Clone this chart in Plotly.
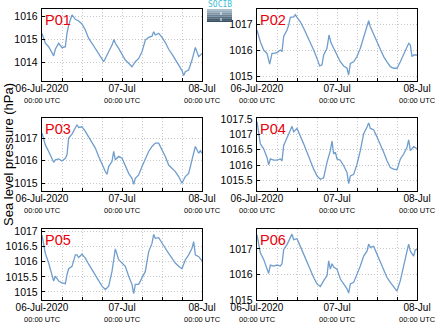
import plotly.graph_objects as go
import pandas as pd

# Sea level pressure (hPa) at six stations, 06-Jul-2020 00:00 to 08-Jul-2020 00:00 UTC
# Times are hours since 06-Jul-2020 00:00 UTC
p01_hours = [0, 1, 2, 3, 3.5, 4, 5, 6, 7, 7.5, 8, 9, 10, 11, 12, 13, 14, 15, 16, 17, 18, 18.5, 19, 20, 21, 21.6, 22, 23, 24,
             25, 26, 27, 28, 29, 30, 31, 32, 33, 33.5, 34, 35, 36, 37, 38, 39, 40, 41, 42, 42.5, 43, 44, 45, 46, 47, 48]
p01_hpa = [1015.26, 1014.83, 1014.68, 1014.39, 1014.28, 1014.57, 1014.83, 1014.64, 1014.68, 1015.26, 1015.62, 1016.06,
           1015.87, 1015.80, 1015.67, 1015.41, 1015.04, 1014.83, 1014.61, 1014.39, 1014.17, 1014.03, 1014.17, 1014.46,
           1014.75, 1015.00, 1014.83, 1014.61, 1014.32, 1014.10, 1013.96, 1013.81, 1014.03, 1014.17, 1014.46, 1014.97,
           1015.09, 1015.14, 1015.33, 1015.19, 1015.26, 1015.09, 1014.86, 1014.57, 1014.36, 1014.13, 1013.88, 1013.64,
           1013.43, 1013.59, 1013.67, 1014.10, 1014.65, 1014.25, 1014.39]

p02_hours = [0, 1, 2, 3, 3.8, 4.5, 5, 6, 7, 7.5, 8, 9, 9.5, 10, 11, 11.5, 12, 13, 14, 15, 16, 17, 18, 18.8, 19.5, 20, 21,
             21.6, 22.2, 23, 24, 25, 26, 27, 27.5, 28, 29, 30, 31, 32, 33, 33.5, 34, 35, 36, 37, 38, 39, 40, 41, 42, 43,
             44, 45, 45.5, 46, 46.5, 47, 48]
p02_hpa = [1016.78, 1016.33, 1016.01, 1015.88, 1015.47, 1015.88, 1015.88, 1015.91, 1016.01, 1015.95, 1016.53, 1016.78,
           1016.97, 1017.27, 1017.29, 1017.37, 1017.27, 1017.10, 1016.85, 1016.59, 1016.33, 1016.01, 1015.69, 1015.40,
           1015.44, 1015.82, 1016.08, 1016.59, 1016.29, 1016.08, 1015.82, 1015.56, 1015.40, 1015.31, 1015.05, 1015.50,
           1015.56, 1015.76, 1016.08, 1016.53, 1016.97, 1017.14, 1016.91, 1016.59, 1016.33, 1016.04, 1015.76, 1015.56,
           1015.37, 1015.31, 1015.31, 1015.56, 1015.82, 1016.08, 1016.27, 1016.20, 1015.76, 1015.82, 1015.82]

p03_hours = [0, 1, 2, 3, 3.5, 4, 5, 6, 7, 7.5, 8, 9, 10, 10.5, 11, 12, 13, 14, 15, 16, 17, 18, 19, 19.5, 20, 21, 21.5, 22,
             23, 24, 25, 26, 27, 27.5, 28, 29, 30, 31, 32, 33, 34, 35, 36, 37, 38, 39, 40, 41, 42, 43, 44, 45, 46, 47,
             47.5, 48]
p03_hpa = [1017.22, 1016.70, 1016.41, 1016.11, 1015.93, 1016.04, 1016.08, 1015.99, 1016.11, 1016.26, 1017.00, 1017.18,
           1017.44, 1017.59, 1017.47, 1017.50, 1017.30, 1017.07, 1016.85, 1016.56, 1016.19, 1015.81, 1015.52, 1015.40,
           1015.74, 1015.96, 1016.41, 1016.04, 1016.19, 1016.11, 1015.74, 1015.44, 1015.22, 1014.96, 1015.22, 1015.37,
           1015.74, 1016.04, 1016.41, 1016.63, 1016.78, 1016.78, 1016.48, 1016.19, 1015.81, 1015.67, 1015.52, 1015.30,
           1015.00, 1015.30, 1015.44, 1016.04, 1016.63, 1016.33, 1016.44, 1016.33]

p04_hours = [0, 1, 2, 3, 3.5, 4, 5, 6, 7, 7.5, 8, 9, 10, 10.5, 11, 12, 13, 14, 15, 16, 17, 18, 19, 20, 21, 22, 22.5, 23,
             23.5, 24, 25, 26, 27, 27.5, 28, 29, 30, 31, 32, 33, 33.5, 34, 35, 36, 37, 38, 39, 40, 41, 42, 43, 44, 45,
             45.5, 46, 47, 48]
p04_hpa = [1017.41, 1016.69, 1016.53, 1016.25, 1016.01, 1016.20, 1016.16, 1016.16, 1016.20, 1016.14, 1016.64, 1016.86,
           1017.13, 1017.26, 1017.08, 1017.19, 1016.91, 1016.69, 1016.42, 1016.14, 1015.87, 1015.65, 1015.54, 1015.59,
           1016.09, 1016.47, 1016.78, 1016.36, 1016.42, 1016.20, 1016.16, 1015.98, 1015.76, 1015.40, 1015.65, 1015.70,
           1016.03, 1016.47, 1017.02, 1017.24, 1017.37, 1017.19, 1017.15, 1016.91, 1016.69, 1016.42, 1016.14, 1015.92,
           1015.87, 1015.85, 1016.20, 1016.36, 1016.58, 1016.82, 1016.47, 1016.60, 1016.53]

p05_hours = [0, 1, 2, 3, 3.5, 4, 5, 6, 7, 7.5, 8, 9, 10, 10.5, 11, 12, 13, 14, 15, 16, 17, 18, 19, 20, 21, 22, 23, 24,
             25, 26, 27, 27.5, 28, 29, 30, 31, 32, 33, 33.5, 34, 35, 36, 37, 38, 39, 40, 41, 42, 43, 44, 45, 45.5, 46,
             47, 48]
p05_hpa = [1016.89, 1016.28, 1015.96, 1015.57, 1015.36, 1015.52, 1015.36, 1015.30, 1015.27, 1015.57, 1015.77, 1015.85,
           1016.23, 1016.23, 1016.14, 1016.25, 1016.12, 1015.92, 1015.74, 1015.57, 1015.41, 1015.19, 1015.08, 1015.19,
           1015.68, 1016.43, 1016.07, 1015.96, 1015.85, 1015.52, 1015.25, 1014.94, 1015.25, 1015.25, 1015.46, 1015.68,
           1016.34, 1016.61, 1016.91, 1016.78, 1016.80, 1016.61, 1016.45, 1016.28, 1016.12, 1015.96, 1015.85, 1015.77,
           1016.07, 1016.23, 1016.45, 1016.67, 1016.23, 1016.17, 1016.03]

p06_hours = [0, 1, 2, 3, 3.5, 4, 5, 6, 7, 7.5, 8, 9, 10, 10.5, 11, 12, 13, 14, 15, 16, 17, 18, 19, 20, 21, 21.5, 22,
             22.5, 23, 24, 25, 26, 27, 27.5, 28, 29, 30, 31, 32, 33, 33.5, 34, 35, 36, 37, 38, 39, 40, 41, 42, 43, 44,
             45, 45.5, 46, 47, 47.5, 48]
p06_hpa = [1017.55, 1016.85, 1016.59, 1016.27, 1016.04, 1016.37, 1016.33, 1016.37, 1016.33, 1016.42, 1016.97, 1017.17,
           1017.45, 1017.58, 1017.36, 1017.40, 1017.10, 1016.78, 1016.46, 1016.14, 1015.88, 1015.63, 1015.53, 1015.76,
           1015.95, 1016.53, 1016.21, 1016.42, 1016.29, 1016.21, 1015.82, 1015.63, 1015.44, 1015.27, 1015.63, 1015.69,
           1015.99, 1016.33, 1016.72, 1016.91, 1017.19, 1017.06, 1017.10, 1016.78, 1016.46, 1016.14, 1015.88, 1015.69,
           1015.50, 1015.35, 1015.76, 1016.40, 1016.91, 1017.19, 1016.91, 1016.72, 1016.97, 1016.97]

station_names = ["P01", "P02", "P03", "P04", "P05", "P06"]
station_hours = [p01_hours, p02_hours, p03_hours, p04_hours, p05_hours, p06_hours]
station_hpa = [p01_hpa, p02_hpa, p03_hpa, p04_hpa, p05_hpa, p06_hpa]

x_tick_hours = [0, 24, 48]
x_tick_dates = ["06-Jul-2020", "07-Jul", "08-Jul"]
x_tick_times = ["00:00 UTC", "00:00 UTC", "00:00 UTC"]

# Panel geometry (pixels in a 435x327 canvas) and per-panel y scaling
W, H = 435, 327
col_px = [(42, 202), (257, 417)]
row_px = [(9, 81), (118, 191), (229, 300)]
y_ranges = [(1013.19, 1016.32), (1014.82, 1017.59), (1014.66, 1017.89),
            (1015.16, 1017.53), (1014.73, 1017.09), (1015.0, 1017.78)]
y_dticks = [1, 1, 1, 0.5, 0.5, 1]

start = pd.Timestamp("2020-07-06 00:00")
LINE = "#6f9dcc"
GRID = "#c8c8c8"
GRID_DASH = "1px,2px"
FONT = "Liberation Sans, Arial, sans-serif"


def px_x(p):
    return p / W


def px_y(p):
    return 1 - p / H


fig = go.Figure()
layout = dict(
    width=W, height=H, margin=dict(l=0, r=0, t=0, b=0, autoexpand=False),
    paper_bgcolor="white", plot_bgcolor="white", showlegend=False,
    font=dict(family=FONT, color="black", size=10),
)
annotations = []
shapes = []

tick_vals = [start + pd.Timedelta(hours=h) for h in x_tick_hours]

for i, name in enumerate(station_names):
    r, c = divmod(i, 2)
    k = "" if i == 0 else str(i + 1)
    times = [start + pd.Timedelta(hours=h) for h in station_hours[i]]
    fig.add_trace(go.Scatter(
        x=times, y=station_hpa[i], mode="lines",
        line=dict(color=LINE, width=1.3),
        xaxis="x" + k, yaxis="y" + k, hoverinfo="x+y",
    ))
    x0, x1 = col_px[c]
    y0, y1 = row_px[r]
    layout["xaxis" + k] = dict(
        domain=[px_x(x0), px_x(x1)], anchor="y" + k, type="date", automargin=False,
        range=[start, start + pd.Timedelta(hours=48)],
        tickmode="array", tickvals=tick_vals, ticktext=x_tick_dates,
        tickfont=dict(size=10, color="black"), ticklabeloverflow="allow",
        ticklabelstandoff=-2,
        showgrid=True, gridcolor=GRID, griddash=GRID_DASH, gridwidth=1,
        showline=True, linecolor="black", linewidth=1.4, mirror=True,
        ticks="inside", ticklen=3, tickcolor="black",
        minor=dict(tickmode="linear", tick0=start, dtick=6 * 3600 * 1000,
                   showgrid=True, gridcolor=GRID, griddash=GRID_DASH, gridwidth=1,
                   ticks="inside", ticklen=3, tickcolor="black"),
        zeroline=False, fixedrange=True,
    )
    lo, hi = y_ranges[i]
    layout["yaxis" + k] = dict(
        domain=[px_y(y1), px_y(y0)], anchor="x" + k, automargin=False,
        range=[lo, hi], tickmode="linear", dtick=y_dticks[i], tick0=1015,
        tickformat=".1~f",
        tickfont=dict(size=10.5, color="black"),
        showgrid=True, gridcolor=GRID, griddash=GRID_DASH, gridwidth=1,
        showline=True, linecolor="black", linewidth=1.4, mirror=True,
        ticks="inside", ticklen=3, tickcolor="black", ticklabelstandoff=1,
        zeroline=False, fixedrange=True,
    )
    # second line of each date tick: the time of day
    for tv, tt in zip(tick_vals, x_tick_times):
        annotations.append(dict(
            text=tt, xref="x" + k, yref="paper", x=tv, y=px_y(y1 + 19),
            xanchor="center", yanchor="middle", showarrow=False,
            font=dict(size=7.5, color="black", family=FONT),
        ))
    annotations.append(dict(
        text=name, xref="paper", yref="paper",
        x=px_x(x0 + 1), y=px_y(y0 + 1), xanchor="left", yanchor="top",
        showarrow=False, font=dict(size=14.5, color="#e8000b", family=FONT),
    ))

annotations.append(dict(
    text="Sea level pressure (hPa)", xref="paper", yref="paper",
    x=px_x(8), y=px_y(155), textangle=-90, showarrow=False,
    xanchor="center", yanchor="middle", font=dict(size=13, color="black", family=FONT),
))

# Institutional logo in the top gap: word mark over a shaded block
annotations.append(dict(
    text="SOCIB", xref="paper", yref="paper", x=px_x(219.5), y=px_y(5),
    xanchor="center", yanchor="middle", showarrow=False,
    font=dict(size=8, color="#3fbfd2", family="DejaVu Sans Mono"),
))
band_colors = ["#a9bdca", "#95aaba", "#8097a8", "#6b8395", "#576f82", "#465d70", "#3a5063"]
band_h = 13 / len(band_colors)
for j, bc in enumerate(band_colors):
    shapes.append(dict(type="rect", xref="paper", yref="paper",
                       x0=px_x(207), x1=px_x(232),
                       y0=px_y(9 + (j + 1) * band_h), y1=px_y(9 + j * band_h),
                       fillcolor=bc, line=dict(width=0), layer="above"))
shapes.append(dict(type="line", xref="paper", yref="paper",
                   x0=px_x(221), x1=px_x(221), y0=px_y(21), y1=px_y(11),
                   line=dict(color="white", width=1, dash="dot"), layer="above"))

layout["annotations"] = annotations
layout["shapes"] = shapes
fig.update_layout(**layout)
fig.write_html("out.html")
